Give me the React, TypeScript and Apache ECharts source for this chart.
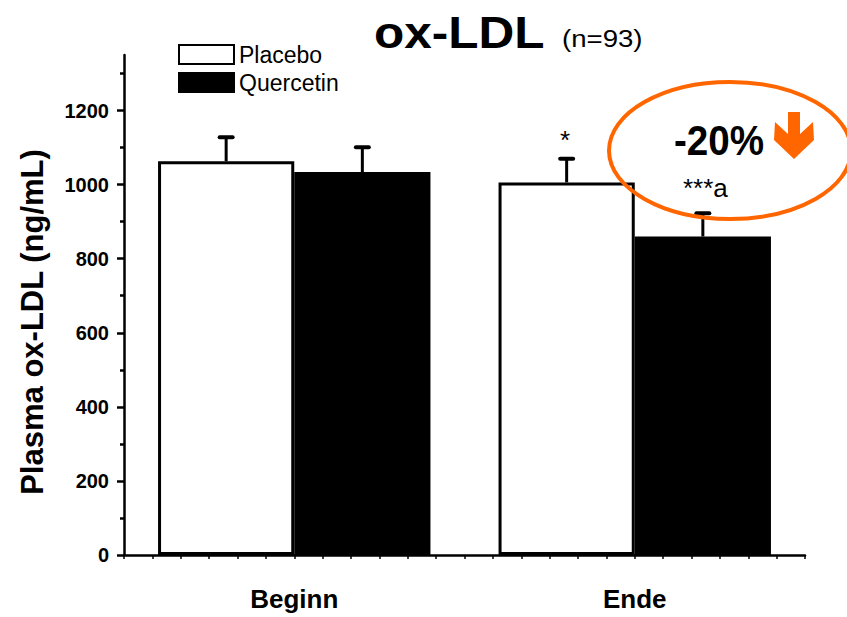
import React, { useEffect, useRef } from 'react';
import * as echarts from 'echarts';

// Study groups and time points
const categories = ['Beginn', 'Ende'];
const seriesNames = ['Placebo', 'Quercetin'];

// Mean plasma ox-LDL (ng/mL) and standard deviations
const placeboMean = [1063, 1006];
const placeboSD = [65, 64];
const quercetinMean = [1034, 860];
const quercetinSD = [67, 63];

// Y axis ticks
const yMajorTicks = [0, 200, 400, 600, 800, 1000, 1200];
const yMinorTicks = [100, 300, 500, 700, 900, 1100, 1300];
const yMax = 1350;

// Texts
const titleText = 'ox-LDL';
const subtitleText = '(n=93)';
const yAxisTitle = 'Plasma ox-LDL (ng/mL)';
const changeLabel = '-20%';
const sigPlacebo = '*';
const sigQuercetin = '***a';

const FONT = '"Liberation Sans", Arial, Helvetica, sans-serif';
const ORANGE = '#ff6600';
const CAT_GAP = 0.2;

function errorBars(name: string, means: number[], sds: number[], side: number) {
  return {
    type: 'custom',
    name,
    xAxisIndex: 0,
    yAxisIndex: 0,
    z: 5,
    silent: true,
    data: means.map((m, i) => [i, m, sds[i]]),
    renderItem: (_params: any, api: any) => {
      const i = api.value(0);
      const m = api.value(1);
      const sd = api.value(2);
      const band = api.size([1, 0])[0];
      const off = (side * band * (1 - CAT_GAP)) / 4;
      const base = api.coord([i, m]);
      const top = api.coord([i, m + sd]);
      const x = base[0] + off;
      const capHalf = 6.5;
      return {
        type: 'group',
        children: [
          {
            type: 'line',
            shape: { x1: x, y1: base[1], x2: x, y2: top[1] },
            style: { stroke: '#000', lineWidth: 3 },
          },
          {
            type: 'line',
            shape: { x1: x - capHalf, y1: top[1], x2: x + capHalf, y2: top[1] },
            style: { stroke: '#000', lineWidth: 4, lineCap: 'round' },
          },
        ],
      };
    },
  };
}

export default function App() {
  const ref = useRef<HTMLDivElement>(null);

  useEffect(() => {
    if (!ref.current) return;
    const chart = echarts.init(ref.current, null, { renderer: 'svg' });

    const option: any = {
      animation: false,
      backgroundColor: '#ffffff',
      textStyle: { fontFamily: FONT },
      grid: { left: 124, right: 42, top: 55, bottom: 62, containLabel: false },
      legend: {
        data: seriesNames,
        orient: 'vertical',
        left: 178,
        top: 43,
        padding: 0,
        itemGap: 5,
        itemWidth: 55,
        itemHeight: 19,
        icon: 'rect',
        selectedMode: false,
        textStyle: { fontFamily: FONT, fontSize: 23, color: '#000' },
      },
      xAxis: [
        {
          type: 'category',
          data: categories,
          position: 'bottom',
          axisLine: { show: true, lineStyle: { color: '#000', width: 2.5 } },
          axisTick: { show: false },
          axisLabel: {
            margin: 31,
            color: '#000',
            fontFamily: FONT,
            fontWeight: 'bold',
            fontSize: 26,
          },
          splitLine: { show: false },
        },
        {
          // fine ticks along the bottom axis
          type: 'value',
          position: 'bottom',
          min: 0,
          max: 24,
          interval: 1,
          axisLine: { show: false },
          axisTick: { show: true, length: 4, lineStyle: { color: '#000', width: 1.5 } },
          axisLabel: { show: false },
          splitLine: { show: false },
        },
      ],
      yAxis: [
        {
          type: 'value',
          position: 'left',
          min: 0,
          max: yMax,
          axisLine: { show: true, lineStyle: { color: '#000', width: 2.5 } },
          axisTick: {
            show: true,
            customValues: yMajorTicks,
            length: 7,
            lineStyle: { color: '#000', width: 2.5 },
          },
          axisLabel: {
            customValues: yMajorTicks,
            formatter: (v: number) => String(v),
            margin: 15,
            color: '#000',
            fontFamily: FONT,
            fontWeight: 'bold',
            fontSize: 20,
          },
          splitLine: { show: false },
        },
        {
          type: 'value',
          position: 'left',
          min: 0,
          max: yMax,
          axisLine: { show: false },
          axisTick: {
            show: true,
            customValues: yMinorTicks,
            length: 4,
            lineStyle: { color: '#000', width: 2.5 },
          },
          axisLabel: { show: false },
          splitLine: { show: false },
        },
      ],
      series: [
        {
          type: 'bar',
          name: seriesNames[0],
          data: placeboMean,
          barGap: '0%',
          barCategoryGap: CAT_GAP * 100 + '%',
          itemStyle: { color: '#ffffff', borderColor: '#000', borderWidth: 3 },
          z: 2,
        },
        {
          type: 'bar',
          name: seriesNames[1],
          data: quercetinMean,
          barGap: '0%',
          barCategoryGap: CAT_GAP * 100 + '%',
          itemStyle: { color: '#000000', borderColor: '#000', borderWidth: 3 },
          z: 2,
        },
        errorBars('Placebo SD', placeboMean, placeboSD, -1),
        errorBars('Quercetin SD', quercetinMean, quercetinSD, 1),
      ],
      graphic: [
        {
          type: 'text',
          x: 374,
          y: 32,
          scaleX: 1.1,
          style: {
            text: titleText,
            x: 0,
            y: 0,
            font: `bold 45px ${FONT}`,
            fill: '#000',
            align: 'left',
            verticalAlign: 'middle',
          },
        },
        {
          type: 'text',
          x: 562,
          y: 38.5,
          scaleX: 1.15,
          style: {
            text: subtitleText,
            x: 0,
            y: 0,
            font: `24px ${FONT}`,
            fill: '#000',
            align: 'left',
            verticalAlign: 'middle',
          },
        },
        {
          type: 'text',
          x: 32,
          y: 322,
          rotation: Math.PI / 2,
          style: {
            text: yAxisTitle,
            x: 0,
            y: 0,
            font: `bold 31px ${FONT}`,
            fill: '#000',
            align: 'center',
            verticalAlign: 'middle',
          },
        },
        {
          type: 'text',
          x: 565,
          y: 140,
          style: {
            text: sigPlacebo,
            x: 0,
            y: 0,
            font: `26px ${FONT}`,
            fill: '#000',
            align: 'center',
            verticalAlign: 'middle',
          },
        },
        {
          type: 'text',
          x: 683,
          y: 188,
          style: {
            text: sigQuercetin,
            x: 0,
            y: 0,
            font: `26px ${FONT}`,
            fill: '#000',
            align: 'left',
            verticalAlign: 'middle',
          },
        },
        {
          type: 'ellipse',
          shape: { cx: 730, cy: 150.5, rx: 121, ry: 68.5 },
          style: { fill: 'none', stroke: ORANGE, lineWidth: 4 },
          z: 10,
        },
        {
          type: 'text',
          x: 719,
          y: 140,
          scaleX: 0.92,
          style: {
            text: changeLabel,
            x: 0,
            y: 0,
            font: `bold 42px ${FONT}`,
            fill: '#000',
            align: 'center',
            verticalAlign: 'middle',
          },
          z: 10,
        },
        {
          type: 'polygon',
          shape: {
            points: [
              [788, 112],
              [800, 112],
              [800, 134],
              [813, 122],
              [814, 140],
              [794, 159],
              [774, 140],
              [775, 122],
              [788, 134],
            ],
          },
          style: { fill: ORANGE, stroke: 'none' },
          z: 10,
        },
      ],
    };

    chart.setOption(option);
    return () => chart.dispose();
  }, []);

  return (
    <div
      ref={ref}
      style={{ position: 'fixed', left: 0, top: 0, width: 847, height: 617, background: '#fff' }}
    />
  );
}
